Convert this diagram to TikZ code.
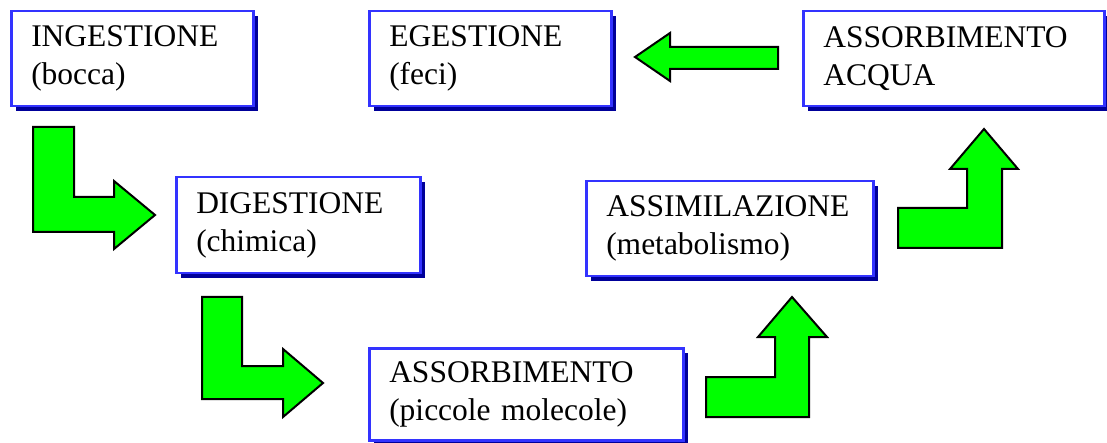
\documentclass[tikz,border=0pt]{standalone}
\usepackage{fontspec}
\setmainfont{Liberation Serif}
\usetikzlibrary{shadows}
\definecolor{boxblue}{HTML}{3333FF}
\definecolor{shadowblue}{HTML}{000099}
\definecolor{arrowgreen}{HTML}{00FF00}
\tikzset{
  stage/.style={draw=boxblue, line width=2.5pt, fill=white, anchor=north west,
    align=left, inner xsep=20pt, inner ysep=0pt,
    font=\fontsize{31.5}{38}\selectfont,
    drop shadow={shadow xshift=4.5pt, shadow yshift=-4.5pt, fill=shadowblue, opacity=1}},
  blockarrow/.style={fill=arrowgreen, draw=black, line width=2pt, line join=miter}
}
\begin{document}
\begin{tikzpicture}[x=1pt,y=-1pt]
            \useasboundingbox (0,0) rectangle (1107,443);
            \node[stage, text width=202pt, minimum height=95pt] (ing) at (10,10) {INGESTIONE\\(bocca)};
            \node[stage, text width=202pt, minimum height=95pt] (ege) at (368,10) {EGESTIONE\\(feci)};
            \node[stage, text width=261pt, minimum height=95pt] (acq) at (802,10) {ASSORBIMENTO\\ACQUA};
            \node[stage, text width=204pt, minimum height=96pt] (dig) at (175,176) {DIGESTIONE\\(chimica)};
            \node[stage, text width=247pt, minimum height=95pt] (ass) at (585,180) {ASSIMILAZIONE\\(metabolismo)};
            \node[stage, text width=274pt, minimum height=92pt] (pic) at (368,347) {ASSORBIMENTO\\(piccole molecole)};
            \draw[blockarrow] (33,127) -- (74,127) -- (74,197) -- (114,197) -- (114,181) -- (155,215)
                -- (114,249) -- (114,232) -- (33,232) -- cycle;
            \draw[blockarrow] (202,297) -- (242,297) -- (242,366) -- (283,366) -- (283,349) -- (323,383)
                -- (283,417) -- (283,399) -- (202,399) -- cycle;
            \draw[blockarrow] (706,417) -- (706,377) -- (775,377) -- (775,337) -- (758,337) -- (792,297)
                -- (827,337) -- (809,337) -- (809,417) -- cycle;
            \draw[blockarrow] (898,248) -- (898,208) -- (967,208) -- (967,169) -- (950,169) -- (984,129)
                -- (1018,169) -- (1002,169) -- (1002,248) -- cycle;
            \draw[blockarrow] (778,47) -- (670,47) -- (670,33) -- (635,57) -- (670,81) -- (670,69)
                -- (778,69) -- cycle;
        \end{tikzpicture}
\end{document}
